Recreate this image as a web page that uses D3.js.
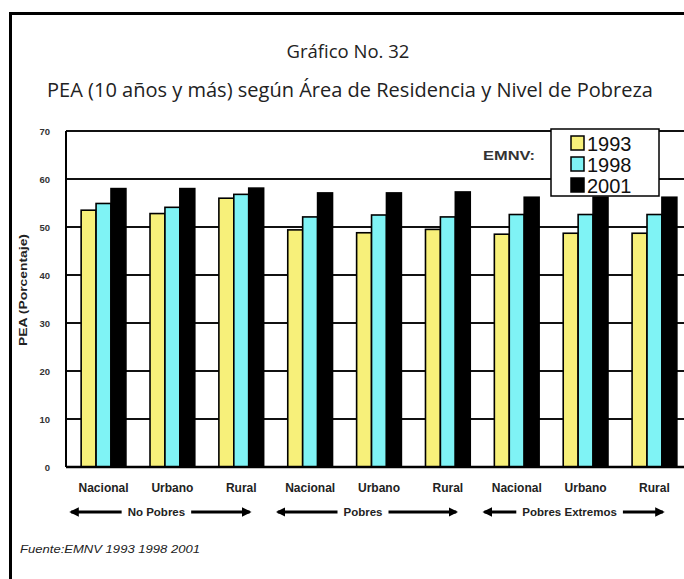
<!DOCTYPE html>
<html><head><meta charset="utf-8">
<script src="https://cdn.jsdelivr.net/npm/d3@7"></script>
<style>body{margin:0;background:#fff;}svg{display:block;}</style>
</head><body>
<script>
const areas = ["Nacional","Urbano","Rural","Nacional","Urbano","Rural","Nacional","Urbano","Rural"];
const levels = ["No Pobres","Pobres","Pobres Extremos"];
const years = ["1993","1998","2001"];
const v1993 = [53.5, 52.8, 56.0, 49.4, 48.8, 49.5, 48.5, 48.7, 48.7];
const v1998 = [54.9, 54.1, 56.8, 52.1, 52.5, 52.1, 52.6, 52.6, 52.6];
const v2001 = [58.0, 58.0, 58.1, 57.1, 57.1, 57.3, 56.2, 56.2, 56.2];
const yTicks = [0,10,20,30,40,50,60,70];
const title1 = "Gráfico No. 32";
const title2 = "PEA (10 años y más) según Área de Residencia y Nivel de Pobreza";
const yTitle = "PEA (Porcentaje)";
const source = "Fuente:EMNV 1993 1998 2001";
const legendLabel = "EMNV:";

(function(){
const colors = ["#f7f07a","#7ff3f5","#000000"];
const series = [v1993, v1998, v2001];

const W = 684, H = 579;
const svg = d3.select("body").append("svg").attr("width", W).attr("height", H);
svg.append("rect").attr("width", W).attr("height", H).attr("fill", "#fff");

// frame
svg.append("line").attr("x1", 10.5).attr("x2", 10.5).attr("y1", 12).attr("y2", H).attr("stroke", "#000").attr("stroke-width", 3);
svg.append("line").attr("x1", 9).attr("x2", W).attr("y1", 13.5).attr("y2", 13.5).attr("stroke", "#000").attr("stroke-width", 3);

// titles
svg.append("text").attr("x", 348).attr("y", 58).attr("text-anchor", "middle")
  .attr("font-family", "Open Sans").attr("font-size", 18.5).attr("fill", "#222").text(title1);
svg.append("text").attr("x", 350).attr("y", 97).attr("text-anchor", "middle")
  .attr("font-family", "Open Sans").attr("font-size", 19.5).attr("fill", "#222")
  .attr("textLength", 606).attr("lengthAdjust", "spacingAndGlyphs").text(title2);

const pL = 66, pT = 131, pB = 467, pR = 692;
const idx = d3.range(areas.length);
const x = d3.scaleBand().domain(idx).range([pL, pR]).paddingInner(0.35).paddingOuter(0.22);
const xi = d3.scaleBand().domain(d3.range(3)).range([0, x.bandwidth()]);
const y = d3.scaleLinear().domain([0, 70]).range([pB, pT]);

// gridlines
svg.append("g").selectAll("line").data(yTicks.filter(t => t > 0 && t < 70)).join("line")
  .attr("x1", pL).attr("x2", W).attr("y1", d => y(d)).attr("y2", d => y(d))
  .attr("stroke", "#111").attr("stroke-width", 2);
svg.append("line").attr("x1", pL).attr("x2", W).attr("y1", y(70)).attr("y2", y(70)).attr("stroke", "#111").attr("stroke-width", 2);

// bars
const gBars = svg.append("g");
series.forEach((s, si) => {
  gBars.selectAll(null).data(s).join("rect")
    .attr("x", (d, i) => x(i) + xi(si))
    .attr("y", d => y(d))
    .attr("width", xi.bandwidth())
    .attr("height", d => y(0) - y(d))
    .attr("fill", colors[si]).attr("stroke", "#000").attr("stroke-width", 1.6);
});

// axes lines
svg.append("line").attr("x1", pL).attr("x2", pL).attr("y1", pT).attr("y2", pB).attr("stroke", "#000").attr("stroke-width", 2);
svg.append("line").attr("x1", pL).attr("x2", W).attr("y1", pB).attr("y2", pB).attr("stroke", "#000").attr("stroke-width", 2.5);

// y tick labels
const yAxis = d3.axisLeft(y).tickValues(yTicks).tickSize(0).tickPadding(16);
const ya = svg.append("g").attr("transform", `translate(${pL},0)`).call(yAxis);
ya.select(".domain").remove();
ya.selectAll("text").attr("font-family", "Liberation Sans").attr("font-weight", "bold").attr("font-size", 9.5).attr("fill", "#333");

// y title
svg.append("text").attr("transform", "translate(27,290) rotate(-90)").attr("text-anchor", "middle")
  .attr("font-family", "Liberation Sans").attr("font-weight", "bold").attr("font-size", 11.5).attr("fill", "#222")
  .attr("textLength", 112).attr("lengthAdjust", "spacingAndGlyphs").text(yTitle);

// x labels
const xAxis = d3.axisBottom(x).tickFormat(i => areas[i]).tickSize(0).tickPadding(16);
const xa = svg.append("g").attr("transform", `translate(0,${pB})`).call(xAxis);
xa.select(".domain").remove();
xa.selectAll("text").attr("font-family", "Liberation Sans").attr("font-weight", "bold").attr("font-size", 12).attr("fill", "#222");

// group labels with arrows
const defs = svg.append("defs");
defs.append("marker").attr("id", "ah").attr("viewBox", "0 0 10 10").attr("refX", 8).attr("refY", 5)
  .attr("markerWidth", 3.2).attr("markerHeight", 3.2).attr("orient", "auto-start-reverse")
  .append("path").attr("d", "M0,0 L10,5 L0,10 z").attr("fill", "#000");
const gl = svg.append("g");
const ly = 512;
levels.forEach((lv, k) => {
  const a = x(k * 3) - 10;
  const b = x(k * 3 + 2) + x.bandwidth() - 14;
  const c = (a + b) / 2 - 4;
  const t = gl.append("text").attr("x", c).attr("y", ly + 4).attr("text-anchor", "middle")
    .attr("font-family", "Liberation Sans").attr("font-weight", "bold").attr("font-size", 11.5).attr("fill", "#222").text(lv);
  const tw = t.node().getComputedTextLength();
  gl.append("line").attr("x1", c - tw / 2 - 6).attr("x2", a).attr("y1", ly).attr("y2", ly)
    .attr("stroke", "#000").attr("stroke-width", 3).attr("marker-end", "url(#ah)");
  gl.append("line").attr("x1", c + tw / 2 + 6).attr("x2", b).attr("y1", ly).attr("y2", ly)
    .attr("stroke", "#000").attr("stroke-width", 3).attr("marker-end", "url(#ah)");
});

// legend
svg.append("text").attr("x", 483).attr("y", 160).attr("font-family", "Liberation Sans").attr("font-weight", "bold")
  .attr("font-size", 13).attr("fill", "#333").attr("textLength", 52).attr("lengthAdjust", "spacingAndGlyphs").text(legendLabel);
const lg = svg.append("g");
lg.append("rect").attr("x", 551).attr("y", 129).attr("width", 108).attr("height", 67)
  .attr("fill", "#fff").attr("stroke", "#000").attr("stroke-width", 1.5);
years.forEach((yr, i) => {
  const cy = 143 + i * 21;
  lg.append("rect").attr("x", 571).attr("y", cy - 7).attr("width", 13).attr("height", 14)
    .attr("fill", colors[i]).attr("stroke", "#000").attr("stroke-width", 1.5);
  lg.append("text").attr("x", 587).attr("y", cy + 7.5).attr("font-family", "Liberation Sans")
    .attr("font-size", 20).attr("fill", "#111").text(yr);
});

// source
svg.append("text").attr("x", 20).attr("y", 553).attr("font-family", "Liberation Sans").attr("font-style", "italic")
  .attr("font-size", 10.5).attr("fill", "#222").attr("textLength", 180).attr("lengthAdjust", "spacingAndGlyphs").text(source);
})();
</script>
</body></html>
